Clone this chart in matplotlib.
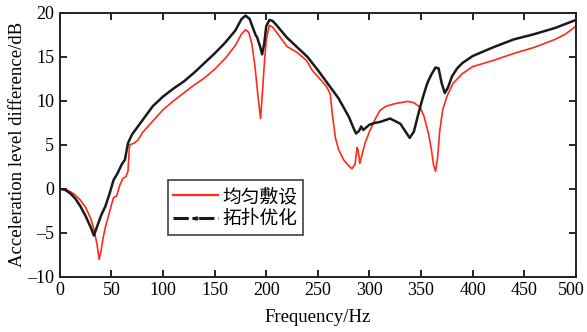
import matplotlib
matplotlib.use("Agg")
import matplotlib.pyplot as plt
import matplotlib.transforms as mtransforms
from matplotlib.lines import Line2D

# Data
freq_topo = [0, 5, 10, 15, 20, 25, 30, 33, 36, 40, 44, 48, 52, 56, 60, 63, 66, 70, 75, 80,
             90, 100, 110, 120, 130, 140, 150, 160, 170, 176, 180, 184, 188, 190, 191, 192, 194,
             196, 198, 200, 203, 206, 210, 220, 230, 240, 250, 260, 270, 280, 285, 287, 290,
             292, 294, 296, 300, 305, 310, 320, 330, 335, 339, 343, 348, 352, 356, 360, 364,
             367, 370, 373, 376, 380, 385, 390, 400, 420, 440, 460, 480, 500]
level_topo = [0, -0.1, -0.5, -1.1, -2.0, -3.1, -4.4, -5.3, -4.3, -3.0, -2.0, -0.6, 1.0, 1.8,
              2.8, 3.3, 5.2, 6.2, 7.0, 7.8, 9.4, 10.5, 11.4, 12.2, 13.2, 14.3, 15.4, 16.6,
              18.0, 19.3, 19.7, 19.3, 18.0, 17.4, 17.3, 16.9, 16.2, 15.3, 16.5, 18.5, 19.2,
              19.1, 18.6, 17.2, 16.1, 15.0, 13.5, 11.9, 10.3, 8.2, 6.8, 6.3, 6.6, 7.1, 6.7,
              6.9, 7.3, 7.5, 7.6, 8.0, 7.4, 6.5, 5.8, 6.5, 8.8, 10.5, 12.0, 13.0, 13.8, 13.7,
              12.0, 10.9, 11.5, 12.8, 13.7, 14.3, 15.1, 16.1, 17.0, 17.6, 18.3, 19.2]

freq_uniform = [0, 5, 10, 15, 20, 25, 30, 33, 36, 38, 40, 42, 44, 47, 50, 52, 55, 58, 61, 64,
                66, 67.5, 72, 76, 80, 90, 100, 110, 120, 130, 140, 150, 160, 170, 176, 180,
                183, 186, 189, 192, 194.5, 196, 198, 200, 203, 206, 210, 220, 230, 239, 245,
                252, 258, 262, 264, 267, 270, 275, 280, 283, 286, 288, 289, 290.7, 293, 296,
                300, 305, 310, 316, 325, 337, 343, 349, 353, 357, 360, 362, 364, 366, 368,
                371, 375, 381, 390, 400, 420, 440, 460, 480, 490, 500]
level_uniform = [0, -0.05, -0.3, -0.7, -1.3, -2.1, -3.4, -4.6, -6.3, -8.0, -7.0, -5.5, -4.4,
                 -3.1, -1.8, -1.0, -0.8, 0.4, 1.2, 1.4, 2.0, 5.0, 5.2, 5.6, 6.4, 7.7, 9.0,
                 10.0, 10.9, 11.8, 12.6, 13.6, 14.8, 16.3, 17.6, 18.1, 17.8, 16.5, 14.0, 10.5,
                 8.0, 10.5, 14.0, 17.0, 18.6, 18.4, 17.8, 16.2, 15.5, 14.6, 13.4, 12.5, 11.7,
                 10.8, 8.5, 5.8, 4.5, 3.3, 2.6, 2.3, 2.8, 4.7, 4.4, 2.9, 4.0, 5.3, 6.5, 7.8,
                 8.9, 9.4, 9.7, 9.95, 9.8, 9.3, 8.2, 6.4, 4.5, 2.8, 2.0, 3.5, 6.5, 9.0, 10.5,
                 12.0, 13.1, 13.9, 14.6, 15.4, 16.1, 17.0, 17.6, 18.5]

series_labels = ["均匀敷设", "拓扑优化"]
x_ticks = [0, 50, 100, 150, 200, 250, 300, 350, 400, 450, 500]
y_ticks = [-10, -5, 0, 5, 10, 15, 20]

serif = ["Liberation Serif", "DejaVu Serif"]
cjk = ["Noto Sans CJK SC", "DejaVu Sans"]

fig = plt.figure(figsize=(5.87, 3.32), dpi=100)
ax = fig.add_axes([0.102, 0.166, 0.879, 0.795])

ax.plot(freq_uniform, level_uniform, color="#ff2a1a", lw=1.2)
ax.plot(freq_topo, level_topo, color="#1a1a1a", lw=1.8)

ax.set_xlim(0, 500)
ax.set_ylim(-10, 20)
ax.set_xticks(x_ticks)
ax.set_yticks(y_ticks)
xlabels = ax.set_xticklabels([str(v) for v in x_ticks], family=serif, fontsize=13)
ax.set_yticklabels([("\u2013" + str(-v)) if v < 0 else str(v) for v in y_ticks],
                   family=serif, fontsize=13)
ax.tick_params(direction="in", length=5, width=1.2, top=True, right=True, pad=4)
# nudge the last x tick label left so it stays inside the figure
shift = mtransforms.ScaledTranslation(-5 / 100, 0, fig.dpi_scale_trans)
xlabels[-1].set_transform(xlabels[-1].get_transform() + shift)
for s in ax.spines.values():
    s.set_linewidth(1.4)
    s.set_color("#222222")

ax.set_xlabel("Frequency/Hz", family=serif, fontsize=13.5, labelpad=7)
ax.set_ylabel("Acceleration level difference/dB", family=serif, fontsize=13.5, labelpad=1)

handles = [
    Line2D([], [], color="#ff2a1a", lw=1.6),
    Line2D([], [], color="#1a1a1a", lw=2.2, linestyle=(0, (5, 1.2, 1, 1.2)),
           marker=".", markersize=4, markevery=[1]),
]
leg = ax.legend(handles, series_labels, loc="lower left", bbox_to_anchor=(0.209, 0.159),
                prop={"family": cjk, "size": 13.5}, frameon=True, fancybox=False,
                edgecolor="#111111", handlelength=2.4, handletextpad=0.2,
                borderpad=0.3, labelspacing=0.08, borderaxespad=0)
leg.get_frame().set_linewidth(1.2)

fig.savefig("out.png", dpi=100)
